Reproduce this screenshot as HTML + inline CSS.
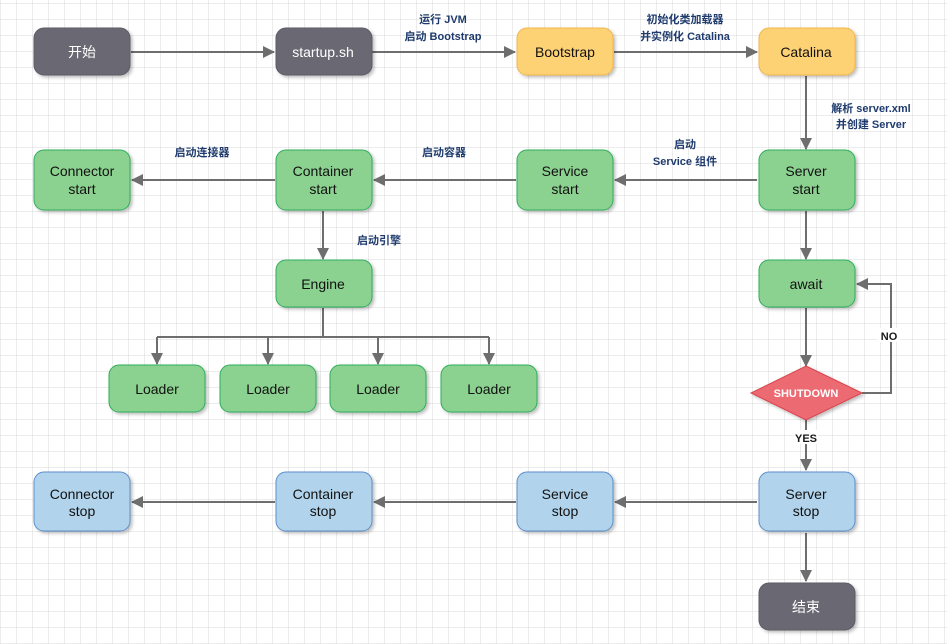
<!DOCTYPE html>
<html><head><meta charset="utf-8"><style>
html,body{margin:0;padding:0;background:#fff;}
svg{display:block;}
text{font-family:"Liberation Sans","Noto Sans CJK SC",sans-serif;}
.n{font-size:14px;fill:#111;text-anchor:middle;}
.w{fill:#fff;}
.l{font-size:11px;font-weight:bold;fill:#1f3b6e;text-anchor:middle;}
.c{stroke:#6e6e6e;stroke-width:2;fill:none;}
</style></head><body>
<svg width="947" height="644" viewBox="0 0 947 644" xmlns="http://www.w3.org/2000/svg">
<defs>
<pattern id="g" x="1" y="4" width="16" height="16" patternUnits="userSpaceOnUse">
<path d="M16 0V16M0 16H16" stroke="#d8d8d8" stroke-width="1" fill="none"/>
</pattern>
<marker id="a" markerWidth="12" markerHeight="12" refX="11" refY="6" orient="auto" markerUnits="userSpaceOnUse">
<path d="M0 0L12 6L0 12Z" fill="#6e6e6e"/>
</marker>
<filter id="s" x="-10%" y="-10%" width="130%" height="140%"><feDropShadow dx="2" dy="2" stdDeviation="1.5" flood-color="#000" flood-opacity="0.25"/></filter>
</defs>
<rect width="947" height="644" fill="url(#g)"/>

<path class="c" d="M131 52H274" marker-end="url(#a)"/>
<path class="c" d="M372 52H515" marker-end="url(#a)"/>
<path class="c" d="M614 52H757" marker-end="url(#a)"/>
<path class="c" d="M806 76V149" marker-end="url(#a)"/>
<path class="c" d="M757 180H615" marker-end="url(#a)"/>
<path class="c" d="M516 180H374" marker-end="url(#a)"/>
<path class="c" d="M275 180H132" marker-end="url(#a)"/>
<path class="c" d="M323 211V259" marker-end="url(#a)"/>
<path class="c" d="M323 308V337M157 337H489M157 337V364M268 337V364M378 337V364M489 337V364" />
<path class="c" d="M157 350V364" marker-end="url(#a)"/>
<path class="c" d="M268 350V364" marker-end="url(#a)"/>
<path class="c" d="M378 350V364" marker-end="url(#a)"/>
<path class="c" d="M489 350V364" marker-end="url(#a)"/>
<path class="c" d="M806 211V259" marker-end="url(#a)"/>
<path class="c" d="M806 308V366" marker-end="url(#a)"/>
<path class="c" d="M862 393H891V284H857" marker-end="url(#a)"/>
<path class="c" d="M806 420V470" marker-end="url(#a)"/>
<path class="c" d="M757 502H615" marker-end="url(#a)"/>
<path class="c" d="M516 502H374" marker-end="url(#a)"/>
<path class="c" d="M275 502H132" marker-end="url(#a)"/>
<path class="c" d="M806 533V581" marker-end="url(#a)"/>

<g filter="url(#s)">
<rect x="34" y="28" width="96" height="47" rx="10" fill="#6a6773" stroke="#5e5b66"/>
<rect x="276" y="28" width="96" height="47" rx="10" fill="#6a6773" stroke="#5e5b66"/>
<rect x="517" y="28" width="96" height="47" rx="10" fill="#fdd274" stroke="#f2b54d"/>
<rect x="759" y="28" width="96" height="47" rx="10" fill="#fdd274" stroke="#f2b54d"/>
<rect x="34" y="150" width="96" height="60" rx="10" fill="#8bd18f" stroke="#2fae5c"/>
<rect x="276" y="150" width="96" height="60" rx="10" fill="#8bd18f" stroke="#2fae5c"/>
<rect x="517" y="150" width="96" height="60" rx="10" fill="#8bd18f" stroke="#2fae5c"/>
<rect x="759" y="150" width="96" height="60" rx="10" fill="#8bd18f" stroke="#2fae5c"/>
<rect x="276" y="260" width="96" height="47" rx="10" fill="#8bd18f" stroke="#2fae5c"/>
<rect x="759" y="260" width="96" height="47" rx="10" fill="#8bd18f" stroke="#2fae5c"/>
<rect x="109" y="365" width="96" height="47" rx="10" fill="#8bd18f" stroke="#2fae5c"/>
<rect x="220" y="365" width="96" height="47" rx="10" fill="#8bd18f" stroke="#2fae5c"/>
<rect x="330" y="365" width="96" height="47" rx="10" fill="#8bd18f" stroke="#2fae5c"/>
<rect x="441" y="365" width="96" height="47" rx="10" fill="#8bd18f" stroke="#2fae5c"/>
<path d="M806 366L862 393L806 420L751 393Z" fill="#ec6b72" stroke="#d9434c"/>
<rect x="34" y="472" width="96" height="59" rx="10" fill="#b1d4ec" stroke="#5d8fcc"/>
<rect x="276" y="472" width="96" height="59" rx="10" fill="#b1d4ec" stroke="#5d8fcc"/>
<rect x="517" y="472" width="96" height="59" rx="10" fill="#b1d4ec" stroke="#5d8fcc"/>
<rect x="759" y="472" width="96" height="59" rx="10" fill="#b1d4ec" stroke="#5d8fcc"/>
<rect x="759" y="583" width="96" height="47" rx="10" fill="#6a6773" stroke="#5e5b66"/>
</g>

<text class="n w" x="82" y="57">开始</text>
<text class="n w" x="323" y="57">startup.sh</text>
<text class="n" x="565" y="57">Bootstrap</text>
<text class="n" x="806" y="57">Catalina</text>
<text class="n" x="82" y="176">Connector</text><text class="n" x="82" y="194">start</text>
<text class="n" x="323" y="176">Container</text><text class="n" x="323" y="194">start</text>
<text class="n" x="565" y="176">Service</text><text class="n" x="565" y="194">start</text>
<text class="n" x="806" y="176">Server</text><text class="n" x="806" y="194">start</text>
<text class="n" x="323" y="289">Engine</text>
<text class="n" x="806" y="289">await</text>
<text class="n" x="157" y="394">Loader</text>
<text class="n" x="268" y="394">Loader</text>
<text class="n" x="378" y="394">Loader</text>
<text class="n" x="489" y="394">Loader</text>
<text x="806" y="397" text-anchor="middle" font-size="11" font-weight="bold" fill="#fff">SHUTDOWN</text>
<text class="n" x="82" y="499">Connector</text><text class="n" x="82" y="516">stop</text>
<text class="n" x="323" y="499">Container</text><text class="n" x="323" y="516">stop</text>
<text class="n" x="565" y="499">Service</text><text class="n" x="565" y="516">stop</text>
<text class="n" x="806" y="499">Server</text><text class="n" x="806" y="516">stop</text>
<text class="n w" x="806" y="612">结束</text>

<text class="l" x="443" y="23">运行 JVM</text>
<text class="l" x="443" y="40">启动 Bootstrap</text>
<text class="l" x="685" y="23">初始化类加载器</text>
<text class="l" x="685" y="40">并实例化 Catalina</text>
<text class="l" x="871" y="112">解析 server.xml</text>
<text class="l" x="871" y="128">并创建 Server</text>
<text class="l" x="685" y="148">启动</text>
<text class="l" x="685" y="165">Service 组件</text>
<text class="l" x="444" y="156">启动容器</text>
<text class="l" x="202" y="156">启动连接器</text>
<text class="l" x="379" y="244">启动引擎</text>
<rect x="878" y="328" width="22" height="14" fill="#fff"/>
<text class="l" x="889" y="340" style="fill:#1a1a1a">NO</text>
<rect x="794" y="430" width="24" height="14" fill="#fff"/>
<text class="l" x="806" y="442" style="fill:#1a1a1a">YES</text>
</svg>
</body></html>
